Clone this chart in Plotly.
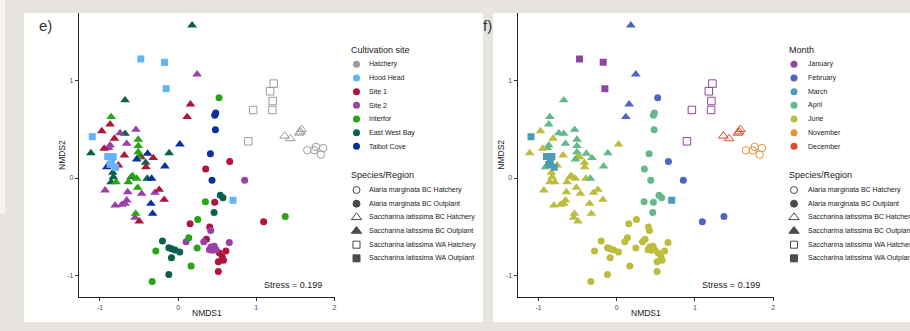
import plotly.graph_objects as go

# ---------------- categories ----------------
site_keys = ["HA", "HH", "S1", "S2", "IN", "EW", "TC"]
site_labels = ["Hatchery", "Hood Head", "Site 1", "Site 2", "Interfor", "East West Bay", "Talbot Cove"]
site_colors = ["#9c9c9c", "#63b4f8", "#b2133a", "#9a3fa8", "#27a512", "#0b5f4c", "#0a2f9f"]

month_keys = ["Jan", "Feb", "Mar", "Apr", "Jun", "Nov", "Dec"]
month_labels = ["January", "February", "March", "April", "June", "November", "December"]
month_colors = ["#8e479e", "#4b64c5", "#4a9db7", "#63b98a", "#bdbc3e", "#ea9235", "#e24a2b"]

species_labels = ["Alaria marginata BC Hatchery", "Alaria marginata BC Outplant",
                  "Saccharina latissima BC Hatchery", "Saccharina latissima BC Outplant",
                  "Saccharina latissima WA Hatchery", "Saccharina latissima WA Outplant"]
species_symbols = ["circle-open", "circle", "triangle-up-open", "triangle-up", "square-open", "square"]

x_ticks = [-1, 0, 1, 2]
y_ticks = [-1, 0, 1]
stress_text = "Stress = 0.199"

# ---------------- data ----------------
# Alaria marginata BC Hatchery
amh_x = [1.652, 1.741, 1.763, 1.856, 1.827]
amh_y = [0.285, 0.285, 0.319, 0.308, 0.240]
amh_site = ["HA"] * 5
amh_month = ["Nov"] * 5

# Alaria marginata BC Outplant
amo_x = [0.660, 0.353, 0.468, 1.094, 0.153, 0.404, 0.362, 0.611, 0.527, 0.565, 0.580, 0.515, 0.515,
         0.851, 0.417, 0.102, 0.328, 0.655, 0.420, 0.463, 0.484, 0.400, 0.442,
         0.523, 0.349, 1.370, 0.251, 0.136, 0.243, 0.166, -0.285, -0.332,
         0.540, 0.574, 0.460, -0.200, -0.119, -0.085, -0.040, 0.021, -0.085, -0.119,
         0.481, 0.468, 0.477, 0.413, 0.434]
amo_y = [0.171, 0.092, -0.250, -0.449, -0.469, -0.503, -0.630, -0.750, -0.770, -0.810, -0.845, -0.860, -0.959,
         -0.024, -0.538, -0.654, -0.654, -0.661, -0.709, -0.702, -0.736, -0.736, -0.743,
         0.825, -0.243, -0.394, -0.425, -0.613, -0.719, -0.904, -0.750, -1.062,
         -0.178, -0.202, -0.353, -0.647, -0.716, -0.726, -0.740, -0.760, -0.818, -0.990,
         0.668, 0.645, 0.497, 0.250, -0.024]
amo_site = ["S1"] * 13 + ["S2"] * 10 + ["IN"] * 9 + ["EW"] * 10 + ["TC"] * 5
amo_month = (["Feb", "Apr", "Apr", "Feb"] + ["Jun"] * 9
             + ["Feb"] + ["Jun"] * 9
             + ["Feb", "Apr", "Feb"] + ["Jun"] * 6
             + ["Apr"] * 3 + ["Jun"] * 7
             + ["Apr"] * 5)

# Saccharina latissima BC Hatchery
slbh_x = [1.363, 1.436, 1.550, 1.580, 1.565]
slbh_y = [0.432, 0.405, 0.462, 0.500, 0.475]
slbh_site = ["HA"] * 5
slbh_month = ["Dec"] * 5

# Saccharina latissima BC Outplant
slbo_x = [0.179, -0.679, -0.679, -1.116, -0.115, -0.415, -0.836, -0.828, -0.857, -0.600, -0.395,
          0.243, -0.743, -0.539, -0.870, -0.890, -0.657, -0.934, -0.645, -0.466, -0.297, -0.657, -0.806, -0.721, -0.679, -0.552,
          0.158, 0.115, -0.870, -0.976, -0.815, -0.946, -0.688, -0.318, -0.475, -0.411, -0.764, -0.242, -0.178, -0.497,
          -0.857, -0.510, -0.510, -0.510, -0.505, -0.794, -0.637, -0.581, -0.530, -0.517, -0.543,
          0.022, -0.169, -0.390, -0.530, -0.912, -0.339, -0.348, -0.326]
slbo_y = [1.568, 0.799, 0.456, 0.257, 0.257, 0.158, 0.055, 0.010, -0.041, 0.010, -0.006,
          1.065, 0.462, 0.497, 0.336, 0.310, 0.353, -0.126, -0.144, -0.161, -0.150, -0.229, -0.281, -0.274, -0.263, -0.407,
          0.757, 0.627, 0.552, 0.483, 0.405, 0.302, 0.233, 0.206, 0.216, 0.113, 0.130, -0.120, -0.222, -0.445,
          0.627, 0.395, 0.329, 0.267, 0.216, -0.041, -0.041, 0.021, -0.006, -0.099, -0.366,
          0.346, 0.120, 0.251, 0.192, 0.113, -0.006, -0.263, -0.366]
slbo_site = ["EW"] * 11 + ["S2"] * 15 + ["S1"] * 14 + ["IN"] * 11 + ["TC"] * 8
slbo_month = (["Feb", "Apr", "Apr", "Jun", "Apr", "Jun", "Jun", "Jun", "Jun", "Jun", "Jun"]
              + ["Feb", "Apr", "Apr", "Apr", "Apr", "Apr"] + ["Jun"] * 9
              + ["Feb", "Feb", "Apr", "Jun", "Jun", "Jun", "Jun", "Apr", "Jun", "Jun", "Jun", "Jun", "Jun", "Jun"]
              + ["Apr", "Apr", "Apr", "Apr", "Jun", "Jun", "Jun", "Jun", "Jun", "Jun", "Jun"]
              + ["Jun", "Apr", "Apr", "Apr", "Apr", "Apr", "Jun", "Jun"])

# Saccharina latissima WA Hatchery
slwh_x = [1.223, 1.177, 1.210, 0.960, 1.206, 0.897]
slwh_y = [0.970, 0.891, 0.791, 0.699, 0.699, 0.377]
slwh_site = ["HA"] * 6
slwh_month = ["Jan"] * 6

# Saccharina latissima WA Outplant
slwo_x = [-0.477, -0.174, -0.153, -1.098, 0.702, -0.900, -0.830, -0.850, -0.800, -0.870]
slwo_y = [1.223, 1.188, 0.918, 0.425, -0.229, 0.220, 0.220, 0.160, 0.110, 0.140]
slwo_site = ["HH"] * 10
slwo_month = ["Jan"] * 3 + ["Mar"] * 7

groups = [
    (amh_x, amh_y, amh_site, amh_month, 0),
    (amo_x, amo_y, amo_site, amo_month, 1),
    (slbh_x, slbh_y, slbh_site, slbh_month, 2),
    (slbo_x, slbo_y, slbo_site, slbo_month, 3),
    (slwh_x, slwh_y, slwh_site, slwh_month, 4),
    (slwo_x, slwo_y, slwo_site, slwo_month, 5),
]

# ---------------- layout constants ----------------
W, H = 910, 331
FONT = "Liberation Sans, Arial, sans-serif"
site_cmap = dict(zip(site_keys, site_colors))
month_cmap = dict(zip(month_keys, month_colors))
marker_sizes = [7.5, 7, 8.5, 8.5, 7.5, 7]


def px(v):
    return v / W


def py(v):
    return 1 - v / H


fig = go.Figure()

panels = [("x", "y", "site"), ("x2", "y2", "month")]
for xa, ya, mode in panels:
    for gx, gy, gsite, gmonth, si in groups:
        if mode == "site":
            cols = [site_cmap[k] for k in gsite]
        else:
            cols = [month_cmap[k] for k in gmonth]
        sym = species_symbols[si]
        is_open = sym.endswith("open")
        fig.add_trace(go.Scatter(
            x=gx, y=gy, xaxis=xa, yaxis=ya, mode="markers",
            showlegend=False, hoverinfo="skip",
            marker=dict(symbol=sym, size=marker_sizes[si], color=cols,
                        line=dict(width=1 if is_open else 0, color=cols if is_open else None)),
        ))

# ---------------- axes ----------------
xr = [-1.268, 2.007]
yr = [-1.222, 1.695]
common_ax = dict(showline=True, linecolor="#222", linewidth=1.2, ticks="outside", ticklen=3,
                 tickcolor="#333", tickwidth=1, showgrid=False, zeroline=False,
                 tickfont=dict(family=FONT, size=7, color="#4d4d4d"), fixedrange=True)
ydom = [py(297), py(13)]
fig.update_layout(
    xaxis=dict(domain=[px(79), px(335)], range=xr, anchor="y",
               tickvals=x_ticks, ticktext=[str(t) for t in x_ticks], **common_ax),
    yaxis=dict(domain=ydom, range=yr, anchor="x",
               tickvals=y_ticks, ticktext=[str(t) for t in y_ticks], **common_ax),
    xaxis2=dict(domain=[px(517.7), px(773.7)], range=xr, anchor="y2",
                tickvals=x_ticks, ticktext=[str(t) for t in x_ticks], **common_ax),
    yaxis2=dict(domain=ydom, range=yr, anchor="x2",
                tickvals=y_ticks, ticktext=[str(t) for t in y_ticks], **common_ax),
    xaxis3=dict(domain=[0, 1], range=[0, W], anchor="y3", visible=False, fixedrange=True),
    yaxis3=dict(domain=[0, 1], range=[H, 0], anchor="x3", visible=False, fixedrange=True),
)

# ---------------- background panels ----------------
shapes = [
    dict(type="rect", xref="paper", yref="paper", x0=px(0), x1=px(5), y0=py(213), y1=py(0),
         fillcolor="#f5f4f2", line=dict(width=0), layer="below"),
    dict(type="rect", xref="paper", yref="paper", x0=px(24), x1=px(483), y0=py(322), y1=py(13),
         fillcolor="white", line=dict(width=0), layer="below"),
    dict(type="rect", xref="paper", yref="paper", x0=px(493), x1=px(W), y0=py(322), y1=py(13),
         fillcolor="white", line=dict(width=0), layer="below"),
]

annotations = []


def text(x, y, s, size, anchor="left", angle=0, color="#1a1a1a"):
    annotations.append(dict(x=px(x), y=py(y), xref="paper", yref="paper", text=s, showarrow=False,
                            xanchor=anchor, yanchor="middle", textangle=angle,
                            font=dict(family=FONT, size=size, color=color)))


# panel labels, axis titles, stress
for lab, lx, cx, nx in [("e)", 45.5, 207, 62), ("f)", 487, 645.7, 500.7)]:
    text(lx, 25, lab, 15, anchor="center", color="#333")
    text(cx, 313, "NMDS1", 8.5, anchor="center")
    text(nx, 155, "NMDS2", 8.5, anchor="center", angle=-90)
for xa, ya in [("x", "y"), ("x2", "y2")]:
    annotations.append(dict(x=1.862, y=-1.10, xref=xa, yref=ya, text=stress_text, showarrow=False,
                            xanchor="right", yanchor="middle", font=dict(family=FONT, size=9, color="#1a1a1a")))

# ---------------- legends ----------------
step = 13.67
legends = [
    (349, 356.5, 367, "Cultivation site", site_labels, site_colors),
    (787.3, 794, 805.7, "Month", month_labels, month_colors),
]
for tx, kx, lx, title, labels, cols in legends:
    text(tx, 50, title, 9)
    ys = [64.3 + step * i for i in range(len(labels))]
    fig.add_trace(go.Scatter(x=[kx] * len(labels), y=ys, xaxis="x3", yaxis="y3", mode="markers",
                             showlegend=False, hoverinfo="skip",
                             marker=dict(symbol="circle", size=7, color=cols, line=dict(width=0))))
    for yy, lab in zip(ys, labels):
        text(lx, yy, lab, 7)
    text(tx, 175, "Species/Region", 9)
    ys2 = [190 + step * i for i in range(len(species_labels))]
    fig.add_trace(go.Scatter(x=[kx] * len(species_labels), y=ys2, xaxis="x3", yaxis="y3", mode="markers",
                             showlegend=False, hoverinfo="skip",
                             marker=dict(symbol=species_symbols, size=[7, 7, 9, 9, 7, 7], color="black",
                                         line=dict(width=1, color="black"))))
    for yy, lab in zip(ys2, species_labels):
        text(lx, yy, lab, 7)

fig.update_layout(
    width=W, height=H, margin=dict(l=0, r=0, t=0, b=0),
    paper_bgcolor="#e7e4e0", plot_bgcolor="rgba(0,0,0,0)",
    shapes=shapes, annotations=annotations, showlegend=False, hovermode=False,
    font=dict(family=FONT),
)

fig.write_html("out.html", config={"displayModeBar": False},
               post_script="document.body.style.margin='0';document.body.style.background='#e7e4e0';")
